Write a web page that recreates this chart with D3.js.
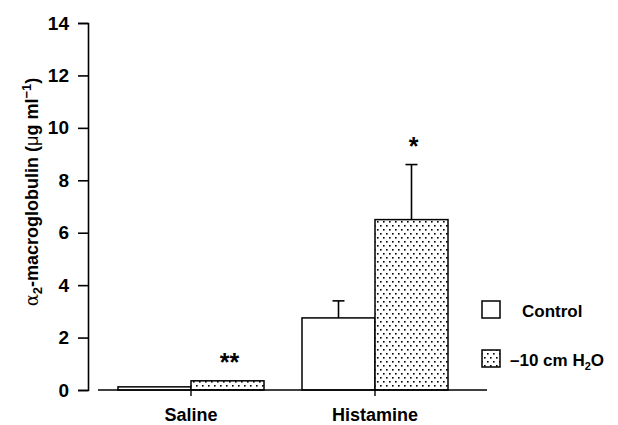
<!DOCTYPE html>
<html>
<head>
<meta charset="utf-8">
<script src="https://cdn.jsdelivr.net/npm/d3@7"></script>
<style>
  body { margin: 0; background: #fff; }
  text { font-family: "Liberation Sans", Arial, sans-serif; font-weight: bold; fill: #000; }
</style>
</head>
<body>
<div id="chart"></div>
<script>
// data
const groups = ["Saline", "Histamine"];
const subgroups = ["Control", "–10 cm H2O"];
const controlValues = [0.12, 2.75];
const controlErr = [0, 0.65];
const h2oValues = [0.35, 6.5];
const h2oErr = [0, 2.1];
const h2oStars = ["**", "*"];
const yTicks = [0, 2, 4, 6, 8, 10, 12, 14];

const rows = groups.map((g, i) => ({
  group: g,
  bars: [
    {key: subgroups[0], value: controlValues[i], err: controlErr[i]},
    {key: subgroups[1], value: h2oValues[i], err: h2oErr[i], star: h2oStars[i]}
  ]
}));

// formatting constants
const width = 618;
const height = 425;
const barW = 73;

const svg = d3.select("#chart")
  .append("svg")
    .attr("width", width)
    .attr("height", height);

// dotted fill
const pat = svg.append("defs")
  .append("pattern")
    .attr("id", "dots")
    .attr("patternUnits", "userSpaceOnUse")
    .attr("width", 6)
    .attr("height", 8);
pat.append("rect").attr("width", 6).attr("height", 8).attr("fill", "#fff");
pat.append("rect").attr("x", 1).attr("y", 1).attr("width", 1.6).attr("height", 1.6).attr("fill", "#000");
pat.append("rect").attr("x", 4).attr("y", 5).attr("width", 1.6).attr("height", 1.6).attr("fill", "#000");

const fills = d3.scaleOrdinal().domain(subgroups).range(["#fff", "url(#dots)"]);

// scales
const x = d3.scaleBand()
  .domain(groups)
  .range([99, 467]);

const xSub = d3.scaleBand()
  .domain(subgroups)
  .range([x.bandwidth() / 2 - barW, x.bandwidth() / 2 + barW]);

const y = d3.scaleLinear()
  .domain([0, 14])
  .range([390, 23]);

// y axis
const yAxis = svg.append("g")
  .attr("transform", "translate(88,0)")
  .call(d3.axisLeft(y).tickValues(yTicks).tickSize(10).tickPadding(9));
yAxis.select(".domain").attr("stroke-width", 1.6);
yAxis.selectAll(".tick line").attr("stroke-width", 1.6);
yAxis.selectAll(".tick text")
  .attr("font-size", 19)
  .attr("font-family", "Liberation Sans, Arial, sans-serif")
  .attr("font-weight", "bold");

// bars
const grp = svg.append("g")
  .selectAll("g")
  .data(rows)
  .join("g")
    .attr("transform", d => `translate(${x(d.group)},0)`);

grp.selectAll("rect")
  .data(d => d.bars)
  .join("rect")
    .attr("x", d => xSub(d.key))
    .attr("y", d => y(d.value))
    .attr("width", xSub.bandwidth())
    .attr("height", d => y(0) - y(d.value))
    .attr("fill", d => fills(d.key))
    .attr("stroke", "#000")
    .attr("stroke-width", 1.5);

// error bars (upper only)
const eb = grp.selectAll("g.err")
  .data(d => d.bars.filter(b => b.err > 0))
  .join("g")
    .attr("class", "err");
eb.append("line")
  .attr("x1", d => xSub(d.key) + xSub.bandwidth() / 2)
  .attr("x2", d => xSub(d.key) + xSub.bandwidth() / 2)
  .attr("y1", d => y(d.value))
  .attr("y2", d => y(d.value + d.err))
  .attr("stroke", "#000")
  .attr("stroke-width", 1.6);
eb.append("line")
  .attr("x1", d => xSub(d.key) + xSub.bandwidth() / 2 - 6)
  .attr("x2", d => xSub(d.key) + xSub.bandwidth() / 2 + 6)
  .attr("y1", d => y(d.value + d.err))
  .attr("y2", d => y(d.value + d.err))
  .attr("stroke", "#000")
  .attr("stroke-width", 1.6);

// significance stars
grp.selectAll("text.star")
  .data(d => d.bars.filter(b => b.star))
  .join("text")
    .attr("class", "star")
    .attr("x", d => xSub(d.key) + xSub.bandwidth() / 2 + 2)
    .attr("y", d => y(d.value + d.err) - 10)
    .attr("text-anchor", "middle")
    .attr("font-size", 25)
    .text(d => d.star);

// x axis
svg.append("line")
  .attr("x1", 98).attr("x2", 487)
  .attr("y1", y(0)).attr("y2", y(0))
  .attr("stroke", "#000")
  .attr("stroke-width", 1.6);
const xAxis = svg.append("g")
  .attr("transform", `translate(0,${y(0)})`)
  .call(d3.axisBottom(x).tickSize(6).tickPadding(12));
xAxis.select(".domain").remove();
xAxis.selectAll(".tick line").attr("stroke-width", 1.4);
xAxis.selectAll(".tick text")
  .attr("font-size", 18)
  .attr("font-family", "Liberation Sans, Arial, sans-serif")
  .attr("font-weight", "bold");

// y label
const yl = svg.append("text")
  .attr("transform", "translate(38,192) rotate(-90)")
  .attr("text-anchor", "middle")
  .attr("font-size", 18);
yl.append("tspan").attr("font-weight", "normal").attr("font-family", "DejaVu Serif, serif").text("α");
yl.append("tspan").attr("font-size", 13).attr("dy", 4).text("2");
yl.append("tspan").attr("dy", -4).text("-macroglobulin (");
yl.append("tspan").attr("font-weight", "normal").text("μ");
yl.append("tspan").text("g ml");
yl.append("tspan").attr("font-size", 13).attr("dy", -7).text("−1");
yl.append("tspan").attr("dy", 7).text(")");

// legend
const legend = svg.append("g");
subgroups.forEach((s, i) => {
  legend.append("rect")
    .attr("x", 482)
    .attr("y", 301 + i * 49)
    .attr("width", 18)
    .attr("height", 17)
    .attr("fill", fills(s))
    .attr("stroke", "#000")
    .attr("stroke-width", 1.5);
});
legend.append("text")
  .attr("x", 522).attr("y", 317)
  .attr("font-size", 17)
  .text("Control");
const l2 = legend.append("text")
  .attr("x", 510).attr("y", 366)
  .attr("font-size", 17);
l2.append("tspan").text("–10 cm H");
l2.append("tspan").attr("font-size", 11).attr("dy", 4).text("2");
l2.append("tspan").attr("dy", -4).text("O");
</script>
</body>
</html>
